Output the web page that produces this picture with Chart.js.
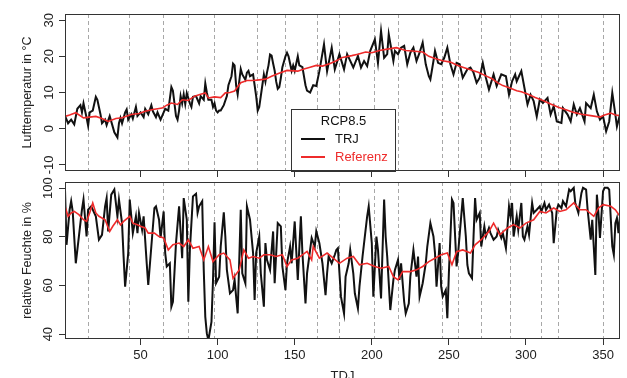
<!DOCTYPE html>
<html>
<head>
<meta charset="utf-8">
<script src="https://cdn.jsdelivr.net/npm/chart.js@4.4.1/dist/chart.umd.min.js"></script>
<style>
  html, body { margin: 0; padding: 0; background: #fff; overflow: hidden; }
  #wrap { position: relative; width: 627px; height: 378px; }
  canvas { position: absolute; left: 0; }
  #cTemp { top: 0; }
  #cHum { top: 172px; }
</style>
</head>
<body>
<div id="wrap">
  <canvas id="cTemp" width="627" height="185"></canvas>
  <canvas id="cHum" width="627" height="215"></canvas>
</div>
<script>
/* ---------- Daten ---------- */
const xMin = 1, xMax = 361;
const xTicks = [50, 100, 150, 200, 250, 300, 350];
const dashDays = [16, 43, 65, 81, 98, 126, 144, 165, 179, 202, 217, 246, 256, 271, 290, 310, 321, 350];

const tempTicks = [-10, 0, 10, 20, 30];
const humTicks = [40, 60, 80, 100];

// Lufttemperatur TRJ
const tempTrjDays = [
  1,3,5,7,9,11,12,13,15,16,
  17,19,21,22,24,25,27,28,30,32,
  33,35,36,37,38,40,41,42,44,45,
  47,48,50,52,53,55,57,58,60,61,
  63,65,66,68,70,71,72,73,74,75,
  76,77,78,79,80,82,83,84,86,87,
  88,89,91,92,93,94,96,97,98,99,
  100,101,102,104,106,107,109,110,111,112,
  113,114,115,116,118,119,120,121,123,124,
  125,126,127,129,130,131,132,133,134,135,
  136,137,138,139,140,141,142,144,145,146,
  147,148,149,150,152,153,155,157,158,160,
  162,164,166,169,171,174,176,179,182,184,
  188,191,193,195,197,199,202,204,206,208,
  210,211,214,215,217,219,221,223,225,227,
  229,231,233,235,237,238,240,241,243,245,
  247,249,251,253,255,257,259,262,264,266,
  268,270,272,274,276,279,281,284,287,289,
  291,293,294,297,299,301,303,305,307,309,
  311,314,316,318,320,323,324,327,329,331,
  333,335,338,339,342,344,346,348,350,352,
  354,356,358,359,361
];
const tempTrj = [
  3.5,1.5,2.5,1.2,5.5,6.5,4.5,7,3,0.8,
  4.5,5,8.8,8,4,1.5,2.5,1,3.5,0.5,
  -1,-2.4,1.5,3,1.5,4.5,5.3,2.5,4,2.8,
  6,3.5,4.5,3.2,5.5,4,6.5,4.8,3.2,4.5,
  2.5,4.5,5.5,5,11.5,10.5,7,3.5,2.5,5,
  9,7,9.5,6.8,9.8,7,6,8.8,9,8,
  7,9,8,12.5,10,8,8,6,7,5,
  4.5,5,5,6.5,9,12,14.5,18,17.5,12,
  9.5,13,16.5,15,13.5,15.5,16,14.5,15,12,
  9,5,6,12,15,13,15.5,17.5,20.5,20.2,
  18,16,13,11,11.5,14,17,20,21,20,
  18,16,17.5,16,20,17.5,17,12,10.5,10,
  12,11.8,15.9,23.3,15.9,22.4,16.4,20.6,16.4,20.6,
  16.9,20.1,16.9,18.7,17.3,21.5,24.7,18.2,27,19.6,
  20.6,26.1,18.7,21.5,20.6,22.4,22.9,17.8,21,22.4,
  18.7,21,23.8,17.8,14.5,13.6,18.7,21.5,18.2,17.8,
  19.6,22.4,17.8,15,18.2,17.8,14.1,16.4,16.9,15.5,
  12.7,14.1,18.2,14.1,10.8,15,11.8,15,14.5,9.4,
  13.1,15,13.1,15.9,11.3,6.7,9.4,7.6,3.4,8.1,
  7.1,8.5,3.9,6.2,2,1.6,5.7,3.9,2,6.7,
  3.9,5.7,2,7.1,5.7,9.4,4.8,2.5,3.4,-0.7,
  2,9.9,3.9,0.6,3.9
];

// Lufttemperatur Referenz
const tempRefDays = [
  1,4,8,13,17,21,25,29,34,38,
  44,49,53,58,64,67,70,74,77,81,
  85,89,92,94,98,102,105,108,111,115,
  119,123,127,131,135,139,145,152,156,160,
  164,168,173,177,181,187,191,196,200,205,
  210,216,222,228,233,237,241,246,251,255,
  259,264,269,274,278,282,285,290,294,297,
  301,306,311,316,321,326,331,336,342,348,
  351,355,358,361
];
const tempRef = [
  3.4,3.8,4.4,3.0,3.2,3.4,2.8,2.0,2.8,3.0,
  3.9,4.2,4.8,5.3,5.7,6.5,7.1,6.7,8.0,7.8,
  9.0,9.5,9.9,8.5,8.8,8.6,9.9,10.0,10.4,12.7,
  13.3,13.3,13.5,13.7,14.5,15.2,16.1,15.9,16.5,17.0,
  17.5,17.3,18.0,18.8,19.7,20.2,20.6,21.2,21.0,21.6,
  22.0,22.4,21.6,21.4,21.2,20.0,19.4,18.8,18.4,17.6,
  17.0,16.3,15.6,14.6,13.8,12.6,11.9,11.2,10.5,10.2,
  9.6,8.6,7.8,6.8,5.9,5.2,4.5,4.0,3.6,3.2,
  3.8,4.3,3.8,3.6
];

// relative Feuchte TRJ
const humTrjDays = [
  1,2,4,5,6,8,10,12,13,15,
  16,18,21,23,25,27,28,29,31,33,
  35,36,38,39,40,42,43,45,47,48,
  49,51,52,54,55,57,59,60,62,63,
  65,66,67,69,70,71,73,75,77,78,
  80,81,82,84,86,87,88,90,91,92,
  93,94,96,97,98,99,101,102,104,105,
  106,108,110,111,113,115,116,118,119,121,
  123,124,125,127,128,130,131,132,134,136,
  137,139,141,142,144,145,147,148,150,152,
  154,155,157,158,161,163,164,166,168,170,
  171,172,174,176,177,178,180,182,183,185,
  186,188,189,191,192,194,196,197,198,200,
  201,203,204,206,208,209,210,212,214,215,
  217,218,219,221,222,224,225,227,229,230,
  231,233,235,236,238,240,241,242,244,245,
  246,248,249,250,252,253,255,256,258,259,
  261,262,263,265,266,267,268,270,271,273,
  274,276,277,279,281,282,284,285,287,289,
  290,291,292,294,295,297,298,299,301,302,
  304,305,307,309,310,312,313,315,317,318,
  320,321,323,324,326,328,329,331,332,334,
  336,337,339,340,342,343,345,346,347,348,
  350,351,353,354,356,357,358,359,360,361
];
const humTrj = [
  99.4,76.7,91.1,94.6,90.4,69.1,80.1,91.1,95.3,80.1,
  91.1,92.5,88.4,78.8,80.8,92.5,95.9,82.2,97.3,99.4,
  88.4,95.3,85.6,71.9,59.5,73.3,95.3,81.5,88.4,81.5,
  89.8,82.9,88.4,69.1,60.2,76,91.8,92.5,87,79.5,
  90.4,73.3,67.8,69.1,51.3,53.3,77.4,92.5,71.2,95.9,
  87,53.3,74.6,96.6,97.7,89.8,92.5,94.6,66.4,47.1,
  40.3,37.5,45,62,86,61,63.6,76,90,80.1,
  66.4,56.8,58.1,62.3,48.5,91.1,65,60.9,92.5,87,
  73.3,54,73.3,80.1,65,51.3,77.4,70.5,66.4,82.2,
  60.9,85.6,84.3,67.8,58.1,69.1,76,69.1,86.3,62.3,
  88.4,73.3,52.6,65,79.5,76,82.2,77.4,69.1,56,
  65,71.9,69.1,72.6,74.6,75.3,55.4,48.5,63.6,69.1,
  74.6,65,56.8,50.6,59.5,71.9,82.9,88.4,92.5,77.4,
  55.4,80.1,74.6,54.7,95.3,80,71.9,49.9,62.3,66.4,
  70.5,62.3,69.1,53.3,48.5,52.6,63.6,74.6,63.6,71.9,
  55.4,60.9,69.1,76,85.6,80.1,73.3,59.5,77.4,59.5,
  55.4,58.1,46.5,65,95.3,93.9,67.8,73.3,88.4,95.9,
  80.1,68.4,65,63,80.1,95.9,87,89.8,76,84.3,
  80.1,83.6,81.5,78.8,80.1,82.9,79.5,81.5,75.3,92.5,
  88.4,93.9,80.1,88.4,82.9,93.9,80.1,78.8,84.3,80.8,
  93.9,89.8,91.1,92.5,90.4,93.9,91.1,93.2,89.8,77.4,
  91.1,93.2,91.8,94.6,92.5,99.4,98.7,100.1,93.9,89.8,
  98,100.1,99.4,91.1,78.8,87,64.3,97.3,89.8,79.5,
  98.7,100.1,100.1,99.4,76,72.6,85.6,87.7,81.5,88.4
];

// relative Feuchte Referenz
const humRefDays = [
  1,3,5,7,10,13,15,17,19,21,
  23,25,27,30,32,35,37,39,43,45,
  48,50,53,55,59,62,65,68,71,75,
  78,81,84,88,91,94,97,101,104,108,
  110,114,117,120,123,127,130,134,138,142,
  145,148,152,155,158,161,162,166,171,175,
  179,184,188,192,197,202,206,211,214,217,
  220,225,229,233,237,241,245,249,252,255,
  259,264,267,271,276,279,283,288,292,296,
  300,305,309,313,318,322,326,331,335,339,
  344,347,350,355,358,361
];
const humRef = [
  92.5,88.4,89.8,90.4,89.1,87,86.3,89.8,93.9,89.8,
  88.4,87.7,87,82.2,84.3,87,84.9,86.3,88.4,85.6,
  84.9,84.3,83.6,81.5,81.5,80.1,79.5,74.6,76.7,77.4,
  76,78.8,75.3,76,70.5,76,69.8,72.6,73.3,70.5,
  63,66.4,74.6,71.2,71.9,71.2,72.6,72.6,71.9,72.6,
  67.8,70.5,71.2,72.6,74,70.5,76,71.2,73.3,71.2,
  69.1,71.2,71.9,68.5,69.1,67.8,67.1,67.8,63.6,62.3,
  65.7,65.7,66.4,67.8,69.8,71.2,72.6,73.3,68.5,73.9,
  74.6,73.3,76.7,78.8,82.2,85.6,80.8,83.6,85,83.6,
  85.6,87,90.4,89.8,91.8,90.4,91.1,93.9,91.1,91.1,
  88.4,91.8,93.2,92.5,91.1,88.4
];

/* ---------- Stil ---------- */
const FONT = '"Liberation Sans", Arial, Helvetica, sans-serif';
const BLACK = "#111111";
const RED = "#ee2b2b";
const AXIS = "#333333";

function pts(days, vals) {
  return days.map((d, i) => ({ x: d, y: vals[i] }));
}

// Rahmen um den Plotbereich (wie R box())
const framePlugin = {
  id: "frame",
  afterDraw(chart) {
    const { ctx, chartArea: a } = chart;
    ctx.save();
    ctx.strokeStyle = AXIS;
    ctx.lineWidth = 1;
    ctx.strokeRect(a.left + 0.5, a.top + 0.5, a.right - a.left - 1, a.bottom - a.top - 1);
    ctx.restore();
  }
};

// Legende in der Mitte des oberen Panels
const boxLegendPlugin = {
  id: "boxLegend",
  afterDatasetsDraw(chart) {
    const { ctx, chartArea: a } = chart;
    const ds = chart.data.datasets;
    const left = 291, right = 396, top = 109;
    ctx.save();
    ctx.fillStyle = "#fff";
    ctx.fillRect(left, top, right - left, a.bottom - top);
    ctx.strokeStyle = AXIS;
    ctx.lineWidth = 1;
    ctx.strokeRect(left + 0.5, top + 0.5, right - left - 1, a.bottom - top);
    ctx.font = "13px " + FONT;
    ctx.textBaseline = "middle";
    ctx.textAlign = "center";
    ctx.fillStyle = "#111";
    ctx.fillText("RCP8.5", (left + right) / 2, 121);
    ctx.textAlign = "left";
    ds.forEach((d, i) => {
      const y = 139 + i * 18;
      ctx.strokeStyle = d.borderColor;
      ctx.lineWidth = 2;
      ctx.beginPath();
      ctx.moveTo(301, y);
      ctx.lineTo(325, y);
      ctx.stroke();
      ctx.fillStyle = i === 0 ? "#111" : RED;
      ctx.fillText(d.label, 335, y + 0.5);
    });
    ctx.restore();
  }
};

function buildScales(cfg) {
  return {
    x: {
      type: "linear",
      min: xMin, max: xMax,
      afterBuildTicks: s => { s.ticks = xTicks.map(v => ({ value: v })); },
      afterFit: s => { s.height = cfg.xHeight; },
      grid: { drawOnChartArea: false, drawTicks: true, tickLength: 6, tickColor: AXIS, color: AXIS },
      border: { display: false },
      ticks: {
        display: cfg.xLabels, autoSkip: false, maxRotation: 0, padding: 3,
        color: "#222", font: { family: FONT, size: 13 }
      },
      title: {
        display: cfg.xLabels, text: "TDJ", color: "#222",
        font: { family: FONT, size: 13 }, padding: { top: 0, bottom: 3 }
      }
    },
    xd: {
      type: "linear",
      position: "bottom",
      min: xMin, max: xMax,
      afterBuildTicks: s => { s.ticks = dashDays.map(v => ({ value: v })); },
      afterFit: s => { s.height = 0; },
      grid: { drawOnChartArea: true, drawTicks: false, color: "#a8a8a8", lineWidth: 1 },
      border: { display: false, dash: [4, 3] },
      ticks: { display: false, autoSkip: false }
    },
    y: {
      min: cfg.yMin, max: cfg.yMax,
      afterBuildTicks: s => { s.ticks = cfg.yTicks.map(v => ({ value: v })); },
      afterFit: s => { s.width = 65; },
      grid: { drawOnChartArea: false, drawTicks: true, tickLength: 6, tickColor: AXIS },
      border: { display: false },
      ticks: {
        minRotation: 90, maxRotation: 90, crossAlign: "center", padding: 0,
        color: "#222", font: { family: FONT, size: 13 }
      },
      title: {
        display: true, text: cfg.yTitle, color: "#222",
        font: { family: FONT, size: 12.5 }, padding: { top: 20, bottom: 0 }
      }
    }
  };
}

function buildChart(id, cfg, trj, ref, plugins) {
  return new Chart(document.getElementById(id), {
    type: "line",
    data: {
      datasets: [
        { label: "TRJ", data: trj, borderColor: BLACK, borderWidth: 2, pointRadius: 0, tension: 0, order: 2 },
        { label: "Referenz", data: ref, borderColor: RED, borderWidth: 1.6, pointRadius: 0, tension: 0, order: 1 }
      ]
    },
    options: {
      responsive: false,
      animation: false,
      devicePixelRatio: 1,
      layout: { padding: { left: 0, right: 7, top: cfg.padTop, bottom: 0 } },
      plugins: { legend: { display: false }, tooltip: { enabled: false } },
      scales: buildScales(cfg)
    },
    plugins: plugins
  });
}

buildChart("cTemp", {
  padTop: 14, xHeight: 14, xLabels: false,
  yMin: -11.7, yMax: 31.7, yTicks: tempTicks, yTitle: "Lufttemperatur in °C"
}, pts(tempTrjDays, tempTrj), pts(tempRefDays, tempRef), [framePlugin, boxLegendPlugin]);

buildChart("cHum", {
  padTop: 10, xHeight: 48, xLabels: true,
  yMin: 38, yMax: 102.5, yTicks: humTicks, yTitle: "relative Feuchte in %"
}, pts(humTrjDays, humTrj), pts(humRefDays, humRef), [framePlugin]);
</script>
</body>
</html>
